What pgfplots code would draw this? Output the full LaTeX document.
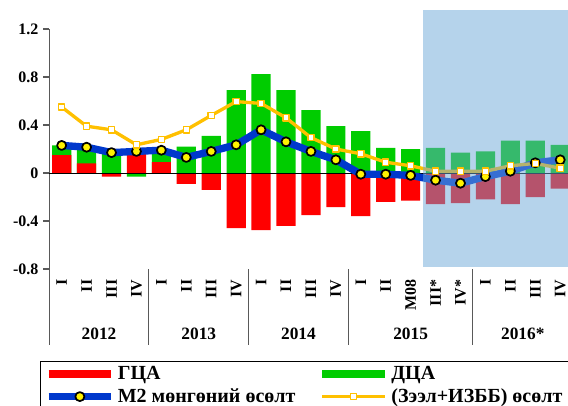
\documentclass[border=0pt]{standalone}
\usepackage{fontspec}
\setmainfont{Liberation Serif}
\usepackage{pgfplots}
\usepackage{pgfplotstable}
\pgfplotsset{compat=1.18}
\definecolor{gcared}{RGB}{255,0,0}
\definecolor{dcagreen}{RGB}{0,204,0}
\definecolor{m2blue}{RGB}{0,56,204}
\definecolor{loanyellow}{RGB}{255,192,0}
\definecolor{shadeblue}{RGB}{108,167,216}
\definecolor{axisgray}{RGB}{89,89,89}
\pgfplotsset{
  linelegend/.style={legend image code/.code={\draw[##1, mark repeat=2, mark phase=2] plot coordinates {(0pt,0pt) (23.5pt,0pt) (47pt,0pt)};}},
}

\pgfplotstableread{
idx gca dca m2 loan
0 0.15 0.08 0.23 0.55
1 0.08 0.14 0.215 0.39
2 -0.03 0.18 0.17 0.36
3 0.17 -0.03 0.18 0.235
4 0.09 0.11 0.19 0.28
5 -0.09 0.22 0.13 0.36
6 -0.14 0.31 0.18 0.48
7 -0.46 0.69 0.235 0.595
8 -0.475 0.825 0.36 0.58
9 -0.44 0.69 0.26 0.46
10 -0.35 0.525 0.18 0.295
11 -0.285 0.39 0.11 0.20
12 -0.36 0.35 -0.01 0.16
13 -0.24 0.21 -0.01 0.09
14 -0.23 0.20 -0.02 0.06
15 -0.26 0.21 -0.06 0.015
16 -0.25 0.17 -0.085 0.015
17 -0.22 0.18 -0.03 0.015
18 -0.26 0.27 0.015 0.06
19 -0.20 0.27 0.085 0.08
20 -0.13 0.235 0.11 0.04
}\datatable

\begin{document}
\begin{tikzpicture}
\begin{axis}[
  scale only axis, width=392.6pt, height=180pt,
  xmin=-0.5, xmax=20.5, ymin=-0.8, ymax=1.2,
  axis y line*=left, axis x line*=bottom,
  x axis line style={draw=none},
  y axis line style={axisgray, line width=0.8pt},
  ytick={-0.8,-0.4,0,0.4,0.8,1.2},
  yticklabels={-0.8,-0.4,0,0.4,0.8,1.2},
  xtick={0,...,20},
  xticklabels={I,II,III,IV,I,II,III,IV,I,II,III,IV,I,II,M08,III*,IV*,I,II,III,IV},
  x tick style={draw=none},
  y tick style={axisgray, line width=0.8pt},
  tick align=outside, major tick length=4.5pt,
  ticklabel style={font=\fontsize{12}{14}\selectfont\bfseries},
  xticklabel style={rotate=90, anchor=east},
  clip=false,
  legend columns=2,
  legend cell align=left,
  legend style={at={(-0.0176,-0.383)}, anchor=north west, draw=black, line width=0.8pt,
    font=\fontsize{15}{17}\selectfont\bfseries, row sep=1pt,
    /tikz/every even column/.append style={column sep=15pt}},
]
\addplot[ybar, bar width=0.77, bar shift=0pt, fill=dcagreen, draw=none, forget plot]
  table[x=idx, y expr={(\thisrow{gca}*\thisrow{dca}>0) ? (\thisrow{gca}+\thisrow{dca}) : (\thisrow{dca})}] {\datatable};
\addplot[ybar, bar width=0.77, bar shift=0pt, fill=gcared, draw=none,
  legend image code/.code={\draw[gcared, line width=6pt] (0pt,0pt) -- (47pt,0pt);}]
  table[x=idx, y=gca] {\datatable};
\addlegendentry{ГЦА}
\addlegendimage{legend image code/.code={\draw[dcagreen, line width=6pt] (0pt,0pt) -- (47pt,0pt);}}
\addlegendentry{ДЦА}
\draw[black, line width=0.75pt] (axis cs:-0.5,0) -- (axis cs:20.5,0);
\addplot[m2blue, line width=5.5pt, line join=round, mark=*, mark size=3.4pt,
  mark options={fill=yellow, draw=black, line width=1.3pt}, linelegend]
  table[x=idx, y=m2] {\datatable};
\addlegendentry{M2 мөнгөний өсөлт}
\addplot[loanyellow, line width=2.5pt, line join=round, mark=square*, mark size=2.3pt,
  mark options={fill=white, draw=loanyellow, line width=1pt}, linelegend]
  table[x=idx, y=loan] {\datatable};
\addlegendentry{(Зээл+ИЗББ) өсөлт}
\fill[shadeblue, opacity=0.5] (axis cs:14.5,1.358) rectangle (axis cs:21,-0.78);
\draw[axisgray, line width=0.8pt] (axis cs:-0.5,-0.8) -- ([yshift=-57pt]axis cs:-0.5,-0.8);
\draw[axisgray, line width=0.8pt] (axis cs:3.5,-0.8) -- ([yshift=-57pt]axis cs:3.5,-0.8);
\draw[axisgray, line width=0.8pt] (axis cs:7.5,-0.8) -- ([yshift=-57pt]axis cs:7.5,-0.8);
\draw[axisgray, line width=0.8pt] (axis cs:11.5,-0.8) -- ([yshift=-57pt]axis cs:11.5,-0.8);
\draw[axisgray, line width=0.8pt] (axis cs:16.5,-0.8) -- ([yshift=-57pt]axis cs:16.5,-0.8);
\node[font=\fontsize{13}{15}\selectfont\bfseries] at ([yshift=-48.75pt]axis cs:1.5,-0.8) {2012};
\node[font=\fontsize{13}{15}\selectfont\bfseries] at ([yshift=-48.75pt]axis cs:5.5,-0.8) {2013};
\node[font=\fontsize{13}{15}\selectfont\bfseries] at ([yshift=-48.75pt]axis cs:9.5,-0.8) {2014};
\node[font=\fontsize{13}{15}\selectfont\bfseries] at ([yshift=-48.75pt]axis cs:14,-0.8) {2015};
\node[font=\fontsize{13}{15}\selectfont\bfseries] at ([yshift=-48.75pt]axis cs:18.5,-0.8) {2016*};
\end{axis}
\pgfresetboundingbox
\useasboundingbox ([shift={(-36.9pt,-102pt)}]current axis.south west) rectangle ([shift={(389.1pt,201.75pt)}]current axis.south west);
\end{tikzpicture}
\end{document}
